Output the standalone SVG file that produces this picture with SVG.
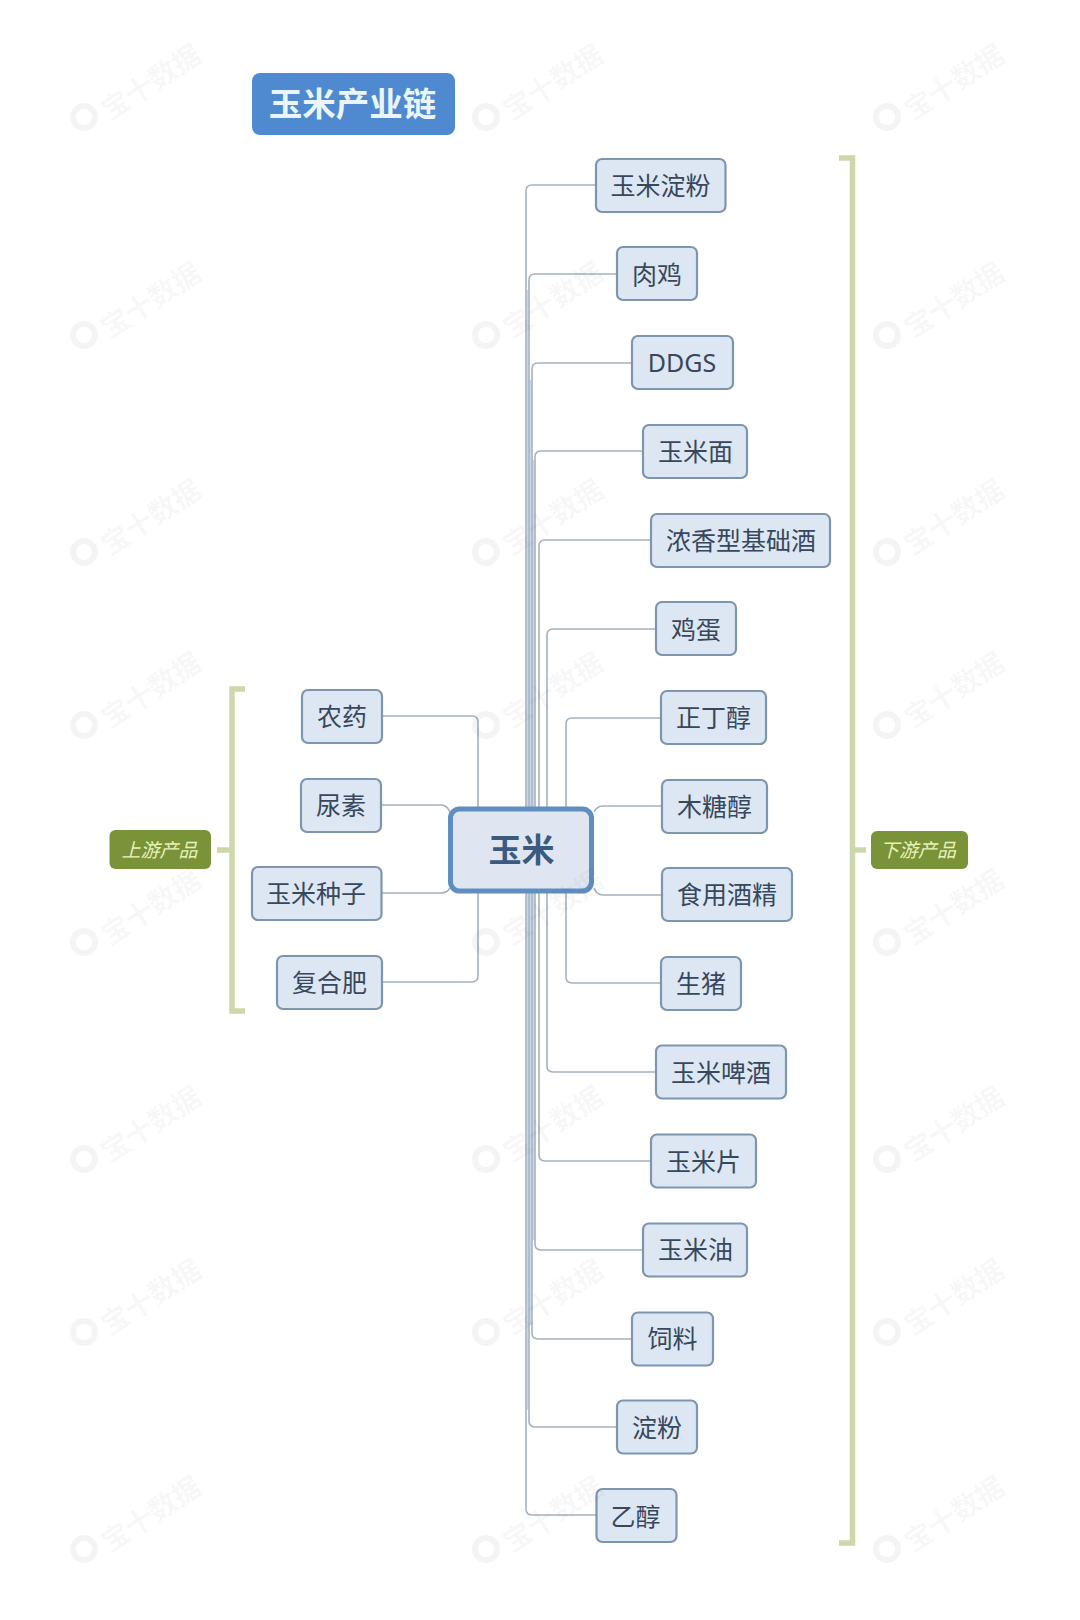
<svg xmlns="http://www.w3.org/2000/svg" width="1080" height="1620" viewBox="0 0 1080 1620">
<style>
text{font-family:"Noto Sans CJK SC","Noto Sans",sans-serif;text-anchor:middle}
.n rect{fill:#dde7f4;stroke:#7d95ad;stroke-width:2.2}
.n text{font-size:25px;fill:#38485c}
.c{fill:none;stroke:#a4b2bf;stroke-width:1.6}
.u{fill:none;stroke:#c4d8ef;stroke-width:1.8}
.b{fill:none;stroke:#cdd7ab;stroke-width:5.5}
.l rect{fill:#7a9338}
.l text{font-size:19px;font-style:italic;fill:#e6f2b8}
.w text{font-size:28px;font-weight:700;fill:#000;fill-opacity:.045}
.w circle{fill:none;stroke:#000;stroke-opacity:.045;stroke-width:6}
</style>
<rect width="1080" height="1620" fill="#fff"/>
<g id="connectors">
<path class="u" d="M527.500 290V807M530.500 380V807M533.500 460V807M527.500 893V1410M530.500 893V1325M533.500 893V1240"/>
<path class="c" d="M526 807V191Q526 185 532 185H596"/>
<path class="c" d="M529 807V280Q529 274 535 274H617"/>
<path class="c" d="M532 807V369Q532 363 538 363H632"/>
<path class="c" d="M535 807V457Q535 451 541 451H643"/>
<path class="c" d="M539 807V546Q539 540 545 540H651"/>
<path class="c" d="M547 807V635Q547 629 553 629H656"/>
<path class="c" d="M566 807V724Q566 718 572 718H661"/>
<path class="c" d="M594 812Q597 806 603 806H662"/>
<path class="c" d="M594 888Q597 895 603 895H662"/>
<path class="c" d="M566 893V977Q566 983 572 983H661"/>
<path class="c" d="M547 893V1066Q547 1072 553 1072H656"/>
<path class="c" d="M539 893V1155Q539 1161 545 1161H651"/>
<path class="c" d="M535 893V1244Q535 1250 541 1250H643"/>
<path class="c" d="M532 893V1333Q532 1339 538 1339H632"/>
<path class="c" d="M529 893V1421Q529 1427 535 1427H617"/>
<path class="c" d="M526 893V1509Q526 1515 532 1515H597"/>
<path class="c" d="M478 807V722Q478 716 472 716H383"/>
<path class="c" d="M450 812Q447 805 441 805H382"/>
<path class="c" d="M450 888Q447 893 441 893H382"/>
<path class="c" d="M478 893V976Q478 982 472 982H383"/>
</g>
<g id="bracket-up"><path class="b" d="M245 689H232V1011H245"/><path class="b" d="M217 850H232"/></g>
<g id="bracket-down"><path class="b" d="M839 158H852.500V1543H839"/><path class="b" d="M852 850H866"/></g>
<g id="title"><rect x="252" y="73" width="203" height="62" rx="8" fill="#4f8ad0"/><text x="352.500" y="116" style="font-size:33.500px;font-weight:700;fill:#eaf5fb">玉米产业链</text></g>
<g id="center"><rect x="450.500" y="809" width="141" height="82" rx="9" fill="#dfe6f2" stroke="#5f8fc0" stroke-width="5"/><text x="521.500" y="862" style="font-size:33px;font-weight:700;fill:#3a5a80">玉米</text></g>
<g id="label-up" class="l"><rect x="109.500" y="830" width="101.500" height="39" rx="6"/><text x="159.500" y="857">上游产品</text></g>
<g id="label-down" class="l"><rect x="871" y="831" width="97" height="38" rx="6"/><text x="918" y="857">下游产品</text></g>
<g id="n1" class="n"><rect x="302" y="690" width="80" height="53" rx="6"/><text x="342" y="726">农药</text></g>
<g id="n2" class="n"><rect x="301" y="779" width="80" height="53" rx="6"/><text x="341" y="815">尿素</text></g>
<g id="n3" class="n"><rect x="252" y="867" width="129.500" height="53" rx="6"/><text x="316" y="903">玉米种子</text></g>
<g id="n4" class="n"><rect x="277" y="956" width="105" height="53" rx="6"/><text x="329.500" y="992">复合肥</text></g>
<g id="d0" class="n"><rect x="596" y="159" width="129.500" height="53" rx="6"/><text x="660.500" y="195">玉米淀粉</text></g>
<g id="d1" class="n"><rect x="617" y="247" width="80" height="53" rx="6"/><text x="657" y="284">肉鸡</text></g>
<g id="d2" class="n"><rect x="632" y="336" width="101" height="53" rx="6"/><text x="682" y="372" style="font-family:'Noto Sans',sans-serif">DDGS</text></g>
<g id="d3" class="n"><rect x="643" y="425" width="104" height="53" rx="6"/><text x="695.500" y="461">玉米面</text></g>
<g id="d4" class="n"><rect x="651" y="514" width="179" height="53" rx="6"/><text x="741" y="550">浓香型基础酒</text></g>
<g id="d5" class="n"><rect x="656" y="602" width="80" height="53" rx="6"/><text x="696" y="639">鸡蛋</text></g>
<g id="d6" class="n"><rect x="661" y="691" width="105" height="53" rx="6"/><text x="713.500" y="727">正丁醇</text></g>
<g id="d7" class="n"><rect x="662" y="780" width="105" height="53" rx="6"/><text x="714.500" y="816">木糖醇</text></g>
<g id="d8" class="n"><rect x="662" y="868" width="130" height="53" rx="6"/><text x="727" y="904">食用酒精</text></g>
<g id="d9" class="n"><rect x="661" y="957" width="80" height="53" rx="6"/><text x="701" y="993">生猪</text></g>
<g id="d10" class="n"><rect x="656" y="1045.500" width="130" height="53" rx="6"/><text x="721" y="1082">玉米啤酒</text></g>
<g id="d11" class="n"><rect x="651" y="1134.500" width="105" height="53" rx="6"/><text x="703.500" y="1171">玉米片</text></g>
<g id="d12" class="n"><rect x="643" y="1223.500" width="104" height="53" rx="6"/><text x="695.500" y="1259">玉米油</text></g>
<g id="d13" class="n"><rect x="632" y="1312.500" width="81" height="53" rx="6"/><text x="672.500" y="1348">饲料</text></g>
<g id="d14" class="n"><rect x="617" y="1400.500" width="80" height="53" rx="6"/><text x="657" y="1437">淀粉</text></g>
<g id="d15" class="n"><rect x="596.500" y="1489" width="80" height="53" rx="6"/><text x="635.500" y="1526">乙醇</text></g>
<g id="watermarks" class="w">
<g transform="translate(84 117)"><circle r="11"/><text transform="translate(6 7) rotate(-33)" x="74" y="8">宝十数据</text></g>
<g transform="translate(486 117)"><circle r="11"/><text transform="translate(6 7) rotate(-33)" x="74" y="8">宝十数据</text></g>
<g transform="translate(887 117)"><circle r="11"/><text transform="translate(6 7) rotate(-33)" x="74" y="8">宝十数据</text></g>
<g transform="translate(84 335)"><circle r="11"/><text transform="translate(6 7) rotate(-33)" x="74" y="8">宝十数据</text></g>
<g transform="translate(486 335)"><circle r="11"/><text transform="translate(6 7) rotate(-33)" x="74" y="8">宝十数据</text></g>
<g transform="translate(887 335)"><circle r="11"/><text transform="translate(6 7) rotate(-33)" x="74" y="8">宝十数据</text></g>
<g transform="translate(84 552)"><circle r="11"/><text transform="translate(6 7) rotate(-33)" x="74" y="8">宝十数据</text></g>
<g transform="translate(486 552)"><circle r="11"/><text transform="translate(6 7) rotate(-33)" x="74" y="8">宝十数据</text></g>
<g transform="translate(887 552)"><circle r="11"/><text transform="translate(6 7) rotate(-33)" x="74" y="8">宝十数据</text></g>
<g transform="translate(84 725)"><circle r="11"/><text transform="translate(6 7) rotate(-33)" x="74" y="8">宝十数据</text></g>
<g transform="translate(486 725)"><circle r="11"/><text transform="translate(6 7) rotate(-33)" x="74" y="8">宝十数据</text></g>
<g transform="translate(887 725)"><circle r="11"/><text transform="translate(6 7) rotate(-33)" x="74" y="8">宝十数据</text></g>
<g transform="translate(84 942)"><circle r="11"/><text transform="translate(6 7) rotate(-33)" x="74" y="8">宝十数据</text></g>
<g transform="translate(486 942)"><circle r="11"/><text transform="translate(6 7) rotate(-33)" x="74" y="8">宝十数据</text></g>
<g transform="translate(887 942)"><circle r="11"/><text transform="translate(6 7) rotate(-33)" x="74" y="8">宝十数据</text></g>
<g transform="translate(84 1159)"><circle r="11"/><text transform="translate(6 7) rotate(-33)" x="74" y="8">宝十数据</text></g>
<g transform="translate(486 1159)"><circle r="11"/><text transform="translate(6 7) rotate(-33)" x="74" y="8">宝十数据</text></g>
<g transform="translate(887 1159)"><circle r="11"/><text transform="translate(6 7) rotate(-33)" x="74" y="8">宝十数据</text></g>
<g transform="translate(84 1332)"><circle r="11"/><text transform="translate(6 7) rotate(-33)" x="74" y="8">宝十数据</text></g>
<g transform="translate(486 1332)"><circle r="11"/><text transform="translate(6 7) rotate(-33)" x="74" y="8">宝十数据</text></g>
<g transform="translate(887 1332)"><circle r="11"/><text transform="translate(6 7) rotate(-33)" x="74" y="8">宝十数据</text></g>
<g transform="translate(84 1549)"><circle r="11"/><text transform="translate(6 7) rotate(-33)" x="74" y="8">宝十数据</text></g>
<g transform="translate(486 1549)"><circle r="11"/><text transform="translate(6 7) rotate(-33)" x="74" y="8">宝十数据</text></g>
<g transform="translate(887 1549)"><circle r="11"/><text transform="translate(6 7) rotate(-33)" x="74" y="8">宝十数据</text></g>
</g>
</svg>
